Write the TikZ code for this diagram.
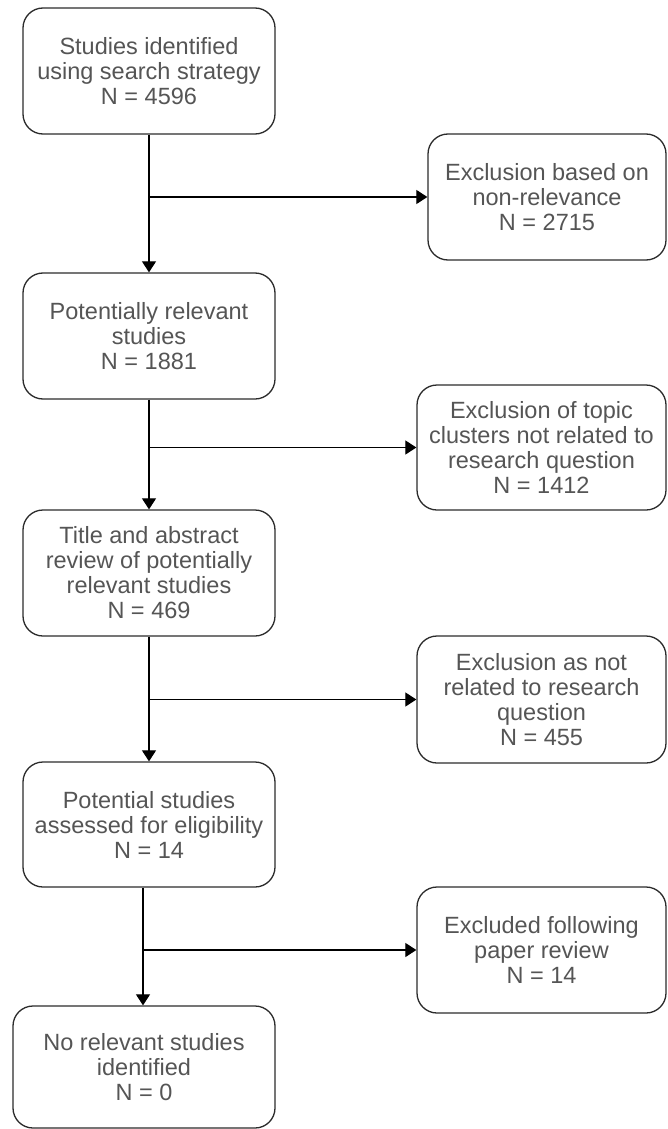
\documentclass[tikz,border=0pt]{standalone}
\usepackage{fontspec}
\setmainfont{Liberation Sans}
\usetikzlibrary{arrows.meta}
\definecolor{txt}{HTML}{555555}
\definecolor{edge}{HTML}{2B2B2B}
\begin{document}
\begin{tikzpicture}[x=1pt,y=-1pt,
  stepbox/.style={draw=edge,line width=1.3pt,rounded corners=20pt,
    align=center,inner sep=0pt,text=txt,
    font=\fontsize{23.5}{25}\selectfont},
  arr/.style={draw=black,line width=1.2pt,-{Triangle[length=11pt,width=14pt]}}]
\useasboundingbox (0,0) rectangle (667,1129);

% main column
\node[stepbox,minimum width=252pt,minimum height=126pt] (b1) at (149,71)
  {Studies identified\\using search strategy\\N = 4596};
\node[stepbox,minimum width=252pt,minimum height=126pt] (b2) at (149,336)
  {Potentially relevant\\studies\\N = 1881};
\node[stepbox,minimum width=252pt,minimum height=126pt] (b3) at (149,573)
  {Title and abstract\\review of potentially\\relevant studies\\N = 469};
\node[stepbox,minimum width=252pt,minimum height=125pt] (b4) at (149,824.5)
  {Potential studies\\assessed for eligibility\\N = 14};
\node[stepbox,minimum width=262pt,minimum height=122pt] (b5) at (144,1067)
  {No relevant studies\\identified\\N = 0};

% exclusions
\node[stepbox,minimum width=238pt,minimum height=126pt] (r1) at (547,197)
  {Exclusion based on\\non-relevance\\N = 2715};
\node[stepbox,minimum width=249pt,minimum height=125pt] (r2) at (541.5,447.5)
  {Exclusion of topic\\clusters not related to\\research question\\N = 1412};
\node[stepbox,minimum width=249pt,minimum height=127pt] (r3) at (541.5,699.5)
  {Exclusion as not\\related to research\\question\\N = 455};
\node[stepbox,minimum width=249pt,minimum height=126pt] (r4) at (541.5,950)
  {Excluded following\\paper review\\N = 14};

% flow down the column
\draw[arr] (b1.south) -- (b2.north);
\draw[arr] (b2.south) -- (b3.north);
\draw[arr] (b3.south) -- (b4.north);
\draw[arr] ([xshift=-6pt]b4.south) -- ([xshift=-6pt]b4.south |- b5.north);

% branches to the exclusions
\draw[arr] (b1.south |- r1.west) -- (r1.west);
\draw[arr] (b2.south |- r2.west) -- (r2.west);
\draw[arr] (b3.south |- r3.west) -- (r3.west);
\draw[arr] ([xshift=-6pt]b4.south |- r4.west) -- (r4.west);
\end{tikzpicture}
\end{document}
